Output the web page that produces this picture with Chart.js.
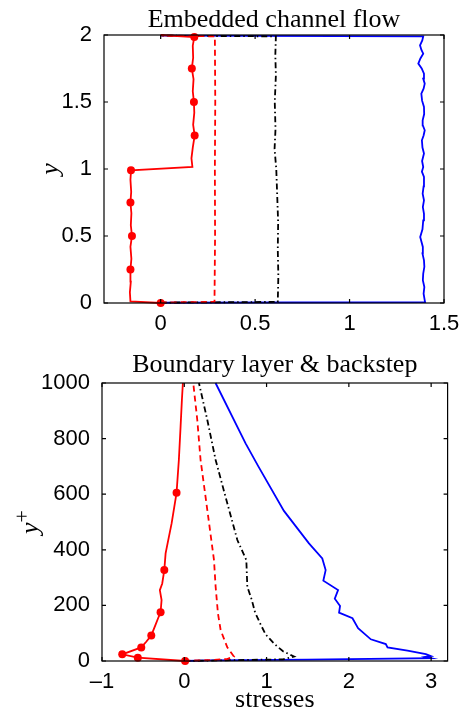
<!DOCTYPE html>
<html>
<head>
<meta charset="utf-8">
<script src="https://cdn.jsdelivr.net/npm/chart.js@4"></script>
<style>
  body { margin: 0; background: #fff; }
  #wrap { position: relative; width: 470px; height: 711px; }
  canvas { position: absolute; left: 0; }
</style>
</head>
<body>
<div id="wrap">
  <canvas id="topChart" width="470" height="345" style="top:0px"></canvas>
  <canvas id="bottomChart" width="470" height="366" style="top:345px"></canvas>
</div>
<script>
// ---- top panel: embedded channel flow  [stress, y]
const topRedSolid = [
  [0, 0], [-0.16, 0.012], [-0.163, 0.08], [-0.158, 0.16], [-0.16, 0.25], [-0.155, 0.33],
  [-0.16, 0.42], [-0.152, 0.5], [-0.158, 0.58], [-0.155, 0.67], [-0.16, 0.75], [-0.156, 0.83],
  [-0.16, 0.92], [-0.157, 0.99], [0.168, 1.015], [0.163, 1.08], [0.17, 1.16], [0.18, 1.25],
  [0.172, 1.33], [0.178, 1.42], [0.176, 1.5], [0.17, 1.58], [0.174, 1.67], [0.165, 1.75],
  [0.172, 1.83], [0.17, 1.92], [0.178, 1.985], [0, 2.0]
];
const topRedDots = [0, 4, 7, 10, 13, 17, 20, 23, 26];
const topRedDashed = [
  [0, 0.004], [0.285, 0.008], [0.288, 0.5], [0.287, 1.0], [0.289, 1.5], [0.287, 1.99], [0, 1.997]
];
const topBlackDashDot = [
  [0, 0.003], [0.62, 0.008], [0.623, 0.2], [0.62, 0.4], [0.622, 0.6], [0.617, 0.8], [0.612, 1.0],
  [0.603, 1.15], [0.608, 1.3], [0.604, 1.5], [0.61, 1.7], [0.607, 1.85], [0.61, 1.99], [0, 1.995]
];
const topBlue = [
  [0, 0.002], [1.40, 0.006], [1.398, 0.02], [1.392, 0.07], [1.396, 0.119], [1.388, 0.17],
  [1.39, 0.219], [1.396, 0.27], [1.394, 0.318], [1.386, 0.37], [1.388, 0.418], [1.374, 0.493],
  [1.386, 0.55], [1.39, 0.617], [1.394, 0.665], [1.388, 0.716], [1.394, 0.766], [1.387, 0.816],
  [1.392, 0.87], [1.394, 0.94], [1.383, 0.98], [1.39, 1.015], [1.384, 1.06], [1.394, 1.115],
  [1.386, 1.16], [1.383, 1.214], [1.392, 1.25], [1.398, 1.289], [1.388, 1.325], [1.387, 1.363],
  [1.395, 1.41], [1.394, 1.463], [1.384, 1.51], [1.38, 1.563], [1.392, 1.6], [1.398, 1.637],
  [1.39, 1.675], [1.394, 1.712], [1.382, 1.75], [1.364, 1.787], [1.375, 1.825], [1.39, 1.861],
  [1.38, 1.89], [1.373, 1.923], [1.385, 1.96], [1.39, 1.99], [0, 1.996]
];
const topXTicks = [0, 0.5, 1, 1.5];
const topYTicks = [0, 0.5, 1, 1.5, 2];

// ---- bottom panel: boundary layer & backstep  [stress, y+]
const botRedSolid = [
  [0.01, 0], [-0.565, 12], [-0.754, 24], [-0.523, 49], [-0.46, 70], [-0.401, 92], [-0.35, 130],
  [-0.31, 160], [-0.288, 175], [-0.276, 219], [-0.297, 255], [-0.268, 279], [-0.243, 327],
  [-0.227, 387], [-0.195, 435], [-0.154, 495], [-0.094, 605], [-0.066, 723], [-0.045, 843],
  [-0.029, 939], [-0.017, 1000]
];
const botRedDots = [0, 1, 2, 3, 5, 8, 12, 16];
const botRedDashed = [
  [0, 1], [0.3, 3], [0.52, 7], [0.603, 16], [0.523, 49], [0.442, 111], [0.409, 171], [0.381, 267],
  [0.361, 363], [0.28, 543], [0.198, 723], [0.158, 867], [0.109, 1000]
];
const botBlackDashDot = [
  [0, 0], [0.6, 3], [1.2, 6], [1.333, 16], [1.2, 35], [1.1, 60], [0.99, 95], [0.93, 130],
  [0.86, 175], [0.82, 220], [0.766, 267], [0.754, 363], [0.645, 435], [0.49, 603], [0.381, 723],
  [0.28, 867], [0.178, 1000]
];
const botBlue = [
  [0, 0], [0.3, 2], [1.5, 5], [3.0, 10], [2.93, 15], [2.997, 18], [2.936, 25], [2.713, 37],
  [2.47, 49], [2.449, 61], [2.267, 78], [2.112, 118], [2.044, 154], [1.881, 174], [1.893, 198],
  [1.829, 224], [1.869, 255], [1.69, 289], [1.718, 327], [1.677, 369], [1.515, 423], [1.211, 540],
  [0.9, 700], [0.745, 783], [0.38, 1000]
];
const botXTicks = [-1, 0, 1, 2, 3];
const botYTicks = [0, 200, 400, 600, 800, 1000];

const tickFont = { family: '"Liberation Sans", Arial, sans-serif', size: 22 };
const serif = '"Liberation Serif", "Times New Roman", serif';

function pts(arr) {
  return arr.map(p => ({ x: p[0], y: p[1] }));
}

// box, inward ticks on all four sides, title and axis labels, drawn the matlab way
const matlabFrame = {
  id: 'matlabFrame',
  afterDraw(chart, args, o) {
    const ctx = chart.ctx;
    const a = chart.chartArea;
    const xs = chart.scales.x, ys = chart.scales.y;
    ctx.save();
    ctx.strokeStyle = '#000';
    ctx.lineWidth = 1.2;
    ctx.strokeRect(a.left, a.top, a.right - a.left, a.bottom - a.top);
    ctx.beginPath();
    xs.ticks.forEach(t => {
      const px = xs.getPixelForValue(t.value);
      ctx.moveTo(px, a.bottom); ctx.lineTo(px, a.bottom - 4);
      ctx.moveTo(px, a.top); ctx.lineTo(px, a.top + 4);
    });
    ys.ticks.forEach(t => {
      const py = ys.getPixelForValue(t.value);
      ctx.moveTo(a.left, py); ctx.lineTo(a.left + 4, py);
      ctx.moveTo(a.right, py); ctx.lineTo(a.right - 4, py);
    });
    ctx.stroke();

    ctx.fillStyle = '#000';
    ctx.textBaseline = 'alphabetic';
    ctx.textAlign = 'center';
    ctx.font = '26px ' + serif;
    const cx = (a.left + a.right) / 2;
    ctx.fillText(o.title, cx, a.top - o.titleGap);
    if (o.xLabel) ctx.fillText(o.xLabel, cx, a.bottom + o.xLabelGap);

    // rotated y label, with optional superscript
    ctx.translate(a.left - o.yLabelGap, (a.top + a.bottom) / 2);
    ctx.rotate(-Math.PI / 2);
    ctx.textAlign = 'left';
    ctx.font = 'italic 26px ' + serif;
    const w1 = ctx.measureText(o.yLabel).width;
    ctx.font = '22px ' + serif;
    const w2 = o.ySup ? ctx.measureText(o.ySup).width : 0;
    const start = -(w1 + w2) / 2;
    ctx.font = 'italic 26px ' + serif;
    ctx.fillText(o.yLabel, start, 0);
    if (o.ySup) {
      ctx.font = '22px ' + serif;
      ctx.fillText(o.ySup, start + w1, -9);
    }
    ctx.restore();
  }
};

function lineSet(data, color, dash, dots) {
  return {
    data: pts(data),
    showLine: true,
    borderColor: color,
    borderWidth: 1.8,
    borderDash: dash,
    pointRadius: dots ? (c => dots.includes(c.dataIndex) ? 4 : 0) : 0,
    pointBackgroundColor: color,
    pointBorderWidth: 0,
    fill: false,
    clip: 5
  };
}

function makeOptions(cfg) {
  return {
    responsive: false,
    animation: false,
    layout: { padding: { top: cfg.padTop, right: cfg.padRight, left: 0, bottom: 0 } },
    plugins: {
      legend: { display: false },
      tooltip: { enabled: false },
      matlabFrame: cfg.frame
    },
    scales: {
      x: {
        type: 'linear',
        min: cfg.xMin, max: cfg.xMax,
        afterBuildTicks: s => { s.ticks = cfg.xTicks.map(v => ({ value: v })); },
        afterFit: s => { s.height = cfg.xAxisHeight; },
        grid: { display: false },
        border: { display: false },
        ticks: {
          font: tickFont, color: '#000', padding: 0, maxRotation: 0, autoSkip: false,
          callback: v => String(v).replace('-', '\u2013')
        }
      },
      y: {
        type: 'linear',
        min: cfg.yMin, max: cfg.yMax,
        afterBuildTicks: s => { s.ticks = cfg.yTicks.map(v => ({ value: v })); },
        afterFit: s => { s.width = cfg.yAxisWidth; },
        grid: { display: false },
        border: { display: false },
        ticks: { font: tickFont, color: '#000', padding: 4, autoSkip: false, callback: v => String(v) }
      }
    }
  };
}

new Chart(document.getElementById('topChart'), {
  type: 'scatter',
  data: {
    datasets: [
      lineSet(topRedSolid, '#ff0000', [], topRedDots),
      lineSet(topRedDashed, '#ff0000', [6, 4]),
      lineSet(topBlackDashDot, '#000000', [6, 3, 1.5, 3]),
      lineSet(topBlue, '#0000ff', [])
    ]
  },
  options: makeOptions({
    padTop: 35, padRight: 26, xAxisHeight: 42, yAxisWidth: 104,
    xMin: -0.3, xMax: 1.5, yMin: 0, yMax: 2,
    xTicks: topXTicks, yTicks: topYTicks,
    frame: { title: 'Embedded channel flow', titleGap: 8.3, yLabel: 'y', yLabelGap: 46 }
  }),
  plugins: [matlabFrame]
});

new Chart(document.getElementById('bottomChart'), {
  type: 'scatter',
  data: {
    datasets: [
      lineSet(botRedSolid, '#ff0000', [], botRedDots),
      lineSet(botRedDashed, '#ff0000', [6, 4]),
      lineSet(botBlackDashDot, '#000000', [6, 3, 1.5, 3]),
      lineSet(botBlue, '#0000ff', [])
    ]
  },
  options: makeOptions({
    padTop: 38, padRight: 22.4, xAxisHeight: 50, yAxisWidth: 102,
    xMin: -1, xMax: 3.2, yMin: 0, yMax: 1000,
    xTicks: botXTicks, yTicks: botYTicks,
    frame: {
      title: 'Boundary layer & backstep', titleGap: 11.3,
      xLabel: 'stresses', xLabelGap: 45.7,
      yLabel: 'y', ySup: '+', yLabelGap: 64
    }
  }),
  plugins: [matlabFrame]
});
</script>
</body>
</html>
